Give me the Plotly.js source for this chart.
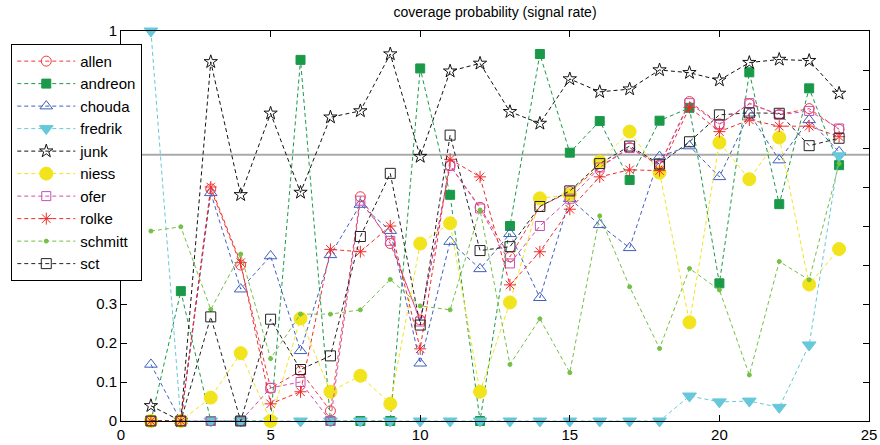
<!DOCTYPE html>
<html>
<head>
<meta charset="utf-8">
<script src="https://cdn.plot.ly/plotly-3.0.1.min.js"></script>
<style>html,body{margin:0;padding:0;background:#fff;}#chart{width:880px;height:445px;}</style>
</head>
<body>
<div id="chart"></div>
<script>
const xs = [1,2,3,4,5,6,7,8,9,10,11,12,13,14,15,16,17,18,19,20,21,22,23,24];
const allen   = [0,0,0.595,0.40,0.084,0.128,0.026,0.575,0.455,0.259,0.655,0.548,0.421,0.55,0.588,0.652,0.701,0.656,0.819,0.762,0.813,0.786,0.801,0.748];
const andreon = [0,0.333,0,0,0,0.926,0,0,0,0.904,0.58,0,0.50,0.941,0.688,0.769,0.618,0.77,0.803,0.353,0.894,0.556,0.853,0.656];
const chouda  = [0.145,0,0.585,0.338,0.423,0.18,0.426,0.555,0.488,0.148,0.46,0.39,0.48,0.316,0.57,0.503,0.444,0.678,0.705,0.626,0.789,0.669,0.772,0.69];
const fredrik = [1,0,0,0,0,0,0,0,0,0,0,0,0,0,0,0,0,0,0.064,0.049,0.051,0.035,0.195,0.68];
const junk    = [0.039,0,0.921,0.58,0.789,0.586,0.779,0.795,0.941,0.678,0.897,0.917,0.793,0.763,0.877,0.844,0.851,0.9,0.893,0.874,0.919,0.927,0.924,0.84];
const niess   = [0,0,0.06,0.174,0,0.263,0.075,0.116,0.044,0.455,0.507,0.075,0.304,0.571,0.58,0.665,0.742,0.637,0.253,0.714,0.62,0.727,0.35,0.441];
const ofer    = [0,0,0,0,0.085,0.10,0,0.565,0.462,0.255,0.655,0.545,0.404,0.50,0.57,0.65,0.70,0.655,0.815,0.76,0.815,0.785,0.795,0.75];
const rolke   = [0,0,0.60,0.406,0.044,0.075,0.44,0.434,0.50,0.185,0.671,0.626,0.349,0.434,0.543,0.626,0.644,0.642,0.804,0.742,0.772,0.756,0.756,0.729];
const schmitt = [0.487,0.498,0.286,0.428,0.16,0.274,0.274,0.285,0.363,0.295,0.285,0.541,0.145,0.262,0.124,0.526,0.344,0.186,0.391,0.336,0.118,0.409,0.362,0.66];
const sct     = [0,0,0.267,0,0.261,0.132,0.167,0.473,0.635,0.246,0.733,0.437,0.447,0.55,0.59,0.66,0.705,0.659,0.716,0.785,0.79,0.789,0.706,0.725];
const refLevel = 0.683;
const xTicks = [0,5,10,15,20,25];
const yTicks = [0,0.1,0.2,0.3,0.4,0.5,0.6,0.7,0.8,0.9,1];
// labels 0.4 .. 0.9 are hidden behind the legend box in the reference
const yTickText = ['0','0.1','0.2','0.3','','','','','','','1'];

const seriesDefs = [
  {name:'allen',   y:allen,   color:'#f03a3a', symbol:'circle-open',        size:10},
  {name:'andreon', y:andreon, color:'#1a9a48', symbol:'square',             size:9},
  {name:'chouda',  y:chouda,  color:'#3f5fbf', symbol:'triangle-up-open',   size:11},
  {name:'fredrik', y:fredrik, color:'#66c8da', symbol:'triangle-down',      size:12},
  {name:'junk',    y:junk,    color:'#111111', symbol:'star-open',          size:10},
  {name:'niess',   y:niess,   color:'#f2e41c', symbol:'circle',             size:13},
  {name:'ofer',    y:ofer,    color:'#c94fb0', symbol:'square-open',        size:9},
  {name:'rolke',   y:rolke,   color:'#f02a2a', symbol:'asterisk-open',      size:10},
  {name:'schmitt', y:schmitt, color:'#73c043', symbol:'circle',             size:4},
  {name:'sct',     y:sct,     color:'#222222', symbol:'square-open',        size:10}
];

const traces = seriesDefs.map(s => ({
  type:'scatter', mode:'lines+markers', name:s.name, x:xs, y:s.y,
  cliponaxis:false,
  line:{color:s.color, width:1, dash:'4px,3px'},
  marker:{color:s.color, symbol:s.symbol, size:s.size, line:{color:s.color, width:1}}
}));

const fontFam = 'Liberation Sans, Arial, Helvetica, sans-serif';
const layout = {
  width:880, height:445,
  margin:{l:119, r:11, t:31, b:24, pad:0},
  paper_bgcolor:'#fff', plot_bgcolor:'#fff',
  title:{text:'coverage probability (signal rate)', font:{family:fontFam, size:14, color:'#000'}, x:0.5625, xanchor:'center', y:0.973, yanchor:'middle'},
  showlegend:true,
  legend:{x:-0.1467, xanchor:'left', y:0.967, yanchor:'top', bgcolor:'#fff', bordercolor:'#000', borderwidth:1,
          font:{family:fontFam, size:15, color:'#000'}, itemwidth:58, tracegroupgap:0},
  xaxis:{range:[0,25], tickvals:xTicks, ticktext:xTicks.map(String), ticks:'inside', ticklen:6, tickcolor:'#000',
         showline:true, linecolor:'#000', linewidth:1, mirror:'allticks', showgrid:false, zeroline:false,
         tickfont:{family:fontFam, size:15, color:'#000'}},
  yaxis:{range:[0,1], tickvals:yTicks, ticktext:yTickText, ticks:'inside', ticklen:6, tickcolor:'#000',
         showline:true, linecolor:'#000', linewidth:1, mirror:'allticks', showgrid:false, zeroline:false,
         tickfont:{family:fontFam, size:15, color:'#000'}},
  shapes:[{type:'line', xref:'paper', x0:0, x1:1, yref:'y', y0:refLevel, y1:refLevel, line:{color:'#aaaaaa', width:2}, layer:'below'}]
};
Plotly.newPlot('chart', traces, layout, {displayModeBar:false, staticPlot:true});
</script>
</body>
</html>
